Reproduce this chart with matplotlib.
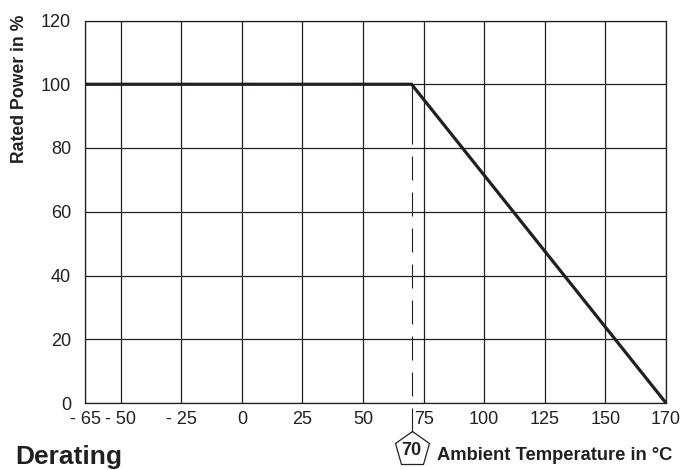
import numpy as np
import matplotlib
matplotlib.use('Agg')
import matplotlib.pyplot as plt
import matplotlib.transforms as mtransforms

# Data
temp = [-65, 70, 170]
power = [100, 100, 0]
knee_temp = 70

x_ticks = [-65, -50, -25, 0, 25, 50, 75, 100, 125, 150, 170]
x_labels = ['- 65', '- 50', '- 25', '0', '25', '50', '75', '100', '125', '150', '170']
y_ticks = [0, 20, 40, 60, 80, 100, 120]

# grid columns are drawn evenly, except the short first one
x_pos = [0, 0.59, 1.59, 2.59, 3.59, 4.59, 5.59, 6.59, 7.59, 8.59, 9.59]

def fwd(x):
    return np.interp(x, x_ticks, x_pos)

def inv(p):
    return np.interp(p, x_pos, x_ticks)

plt.rcParams['font.family'] = ['Liberation Sans', 'DejaVu Sans']
ink = '#231f20'

fig = plt.figure(figsize=(6.83, 4.70), dpi=100)
ax = fig.add_axes([85 / 683, 67 / 470, 581 / 683, 382.5 / 470])
ax.set_xscale('function', functions=(fwd, inv))
ax.set_xlim(-65, 170)
ax.set_ylim(0, 120)

ax.set_xticks(x_ticks)
ax.set_xticklabels(x_labels)
ax.set_yticks(y_ticks)
ax.minorticks_off()
ax.tick_params(axis='both', length=0, labelsize=13, colors=ink)
ax.tick_params(axis='x', pad=6)
ax.tick_params(axis='y', pad=10)
ax.grid(True, color=ink, linewidth=0.9)
for s in ax.spines.values():
    s.set_color(ink)
    s.set_linewidth(0.9)

# derating curve
ax.plot(temp, power, color=ink, linewidth=2.3, solid_joinstyle='miter',
        solid_capstyle='butt', zorder=5)

# dashed marker line at the knee, running down to the pentagon tag
tag_y = -0.121          # pentagon centre, axes fraction
tag_top = -0.075        # pentagon top vertex, axes fraction
dash_seq = [54, 10.8] + [21.6, 10.8] * 9
ax.plot([knee_temp, knee_temp], [100, tag_top * 120], color=ink, linewidth=0.8,
        linestyle=(0, dash_seq), clip_on=False, zorder=4)

trans = mtransforms.blended_transform_factory(ax.transData, ax.transAxes)
ax.plot([knee_temp], [tag_y], marker='p', markersize=26, markerfacecolor='white',
        markeredgecolor=ink, markeredgewidth=0.9, transform=trans, clip_on=False)
ax.text(knee_temp, tag_y - 0.004, str(knee_temp), transform=trans, ha='center',
        va='center', fontsize=13, fontweight='bold', color=ink)

fig.text(437 / 683, 1 - 456 / 470, 'Ambient Temperature in °C', ha='left', va='center',
         fontsize=13.2, fontweight='bold', color=ink)
fig.text(20 / 683, 1 - 15 / 470, 'Rated Power in %', ha='center', va='top',
         rotation=90, fontsize=12.7, fontweight='bold', color=ink)
fig.text(15 / 683, 6 / 470, 'Derating', ha='left', va='baseline',
         fontsize=19, fontweight='bold', color=ink)

fig.savefig('out.png', dpi=100)
